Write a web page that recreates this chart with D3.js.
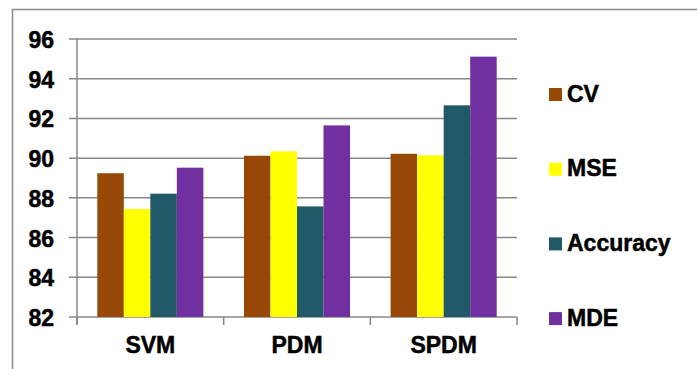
<!DOCTYPE html>
<html><head><meta charset="utf-8">
<script src="https://cdn.jsdelivr.net/npm/d3@7"></script>
<style>body{margin:0;background:#fff}svg{display:block}text{font-family:"Liberation Sans",Arial,sans-serif;font-weight:bold;fill:#000;stroke:#000;stroke-width:0.5px}</style>
</head><body><svg id="c" width="697" height="369"></svg>
<script>
const categories = ["SVM", "PDM", "SPDM"];
const seriesNames = ["CV", "MSE", "Accuracy", "MDE"];
const cvValues = [89.24, 90.12, 90.22];
const mseValues = [87.44, 90.34, 90.14];
const accuracyValues = [88.21, 87.57, 92.66];
const mdeValues = [89.52, 91.65, 95.11];
const yTicks = [82, 84, 86, 88, 90, 92, 94, 96];
const colors = ["#974706", "#FFFF00", "#215968", "#7030A0"];

const seriesValues = [cvValues, mseValues, accuracyValues, mdeValues];
const data = categories.map((c, i) => ({cat: c, vals: seriesNames.map((s, j) => ({s, v: seriesValues[j][i], k: j}))}));

const svg = d3.select("#c");
const grey = "#878787";
// outer border
svg.append("path").attr("d", "M12.5,380 L12.5,9.5 L710,9.5").attr("fill", "none").attr("stroke", "#8a8a8a").attr("stroke-width", 1.5);

const pL = 77, pR = 517, pT = 39, pB = 317;
const y = d3.scaleLinear().domain([82, 96]).range([pB, pT]);
const x0 = d3.scaleBand().domain(categories).range([pL, pR]).padding(0);
const bw = x0.bandwidth();
const x1 = d3.scaleBand().domain(seriesNames).range([20.3, bw - 20.3]).padding(0);

// gridlines
svg.append("g").selectAll("line").data(yTicks).join("line")
  .attr("x1", pL - 8).attr("x2", pR).attr("y1", d => y(d)).attr("y2", d => y(d))
  .attr("stroke", grey).attr("stroke-width", 1.5);
// y axis line
svg.append("line").attr("x1", pL).attr("x2", pL).attr("y1", pT).attr("y2", pB + 8).attr("stroke", grey).attr("stroke-width", 1.5);
// x category ticks
const bounds = categories.map(c => x0(c)).concat([pR]);
svg.append("g").selectAll("line").data(bounds).join("line")
  .attr("x1", d => d).attr("x2", d => d).attr("y1", pB).attr("y2", pB + 8)
  .attr("stroke", grey).attr("stroke-width", 1.5);

// bars
const g = svg.append("g").selectAll("g").data(data).join("g").attr("transform", d => `translate(${x0(d.cat)},0)`);
g.selectAll("rect").data(d => d.vals).join("rect")
  .attr("x", d => x1(d.s)).attr("width", x1.bandwidth())
  .attr("y", d => y(d.v)).attr("height", d => y(82) - y(d.v))
  .attr("fill", d => colors[d.k]);

const fs = 23;
// y labels
svg.append("g").selectAll("text").data(yTicks).join("text")
  .attr("x", 54).attr("y", d => y(d) + 9).attr("text-anchor", "end").attr("font-size", fs).text(d => d);
// x labels
svg.append("g").selectAll("text").data(categories).join("text")
  .attr("x", d => x0(d) + bw / 2).attr("y", 353).attr("text-anchor", "middle").attr("font-size", fs).text(d => d);

// legend
const lg = svg.append("g").selectAll("g").data(seriesNames).join("g")
  .attr("transform", (d, i) => `translate(549,${88 + i * 74.7})`);
lg.append("rect").attr("width", 13).attr("height", 13).attr("fill", (d, i) => colors[i]);
lg.append("text").attr("x", 18).attr("y", 13.5).attr("font-size", fs).text(d => d);
</script></body></html>
